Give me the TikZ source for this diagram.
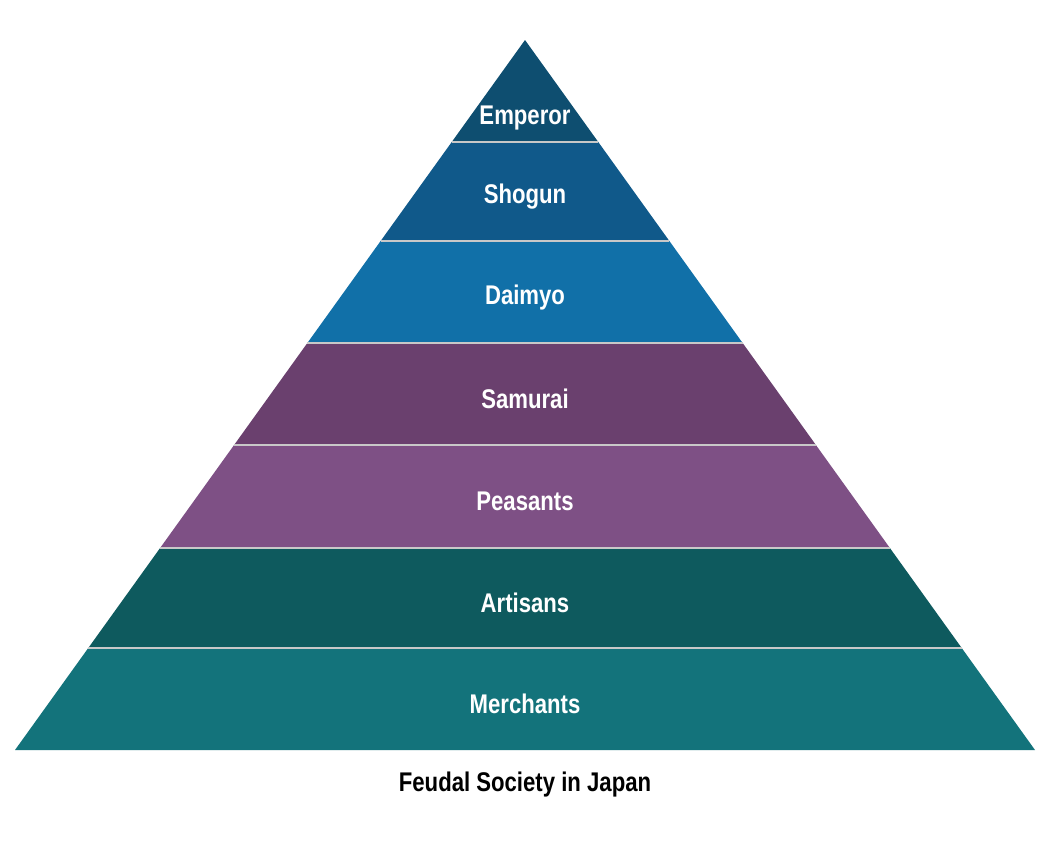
\documentclass[tikz,border=0pt]{standalone}
\usepackage{fontspec}
\setmainfont{Liberation Sans}[FakeStretch=0.82]
\definecolor{cEmp}{HTML}{0E4E70}
\definecolor{cSho}{HTML}{10598A}
\definecolor{cDai}{HTML}{1170A8}
\definecolor{cSam}{HTML}{6A406E}
\definecolor{cPea}{HTML}{7E5085}
\definecolor{cArt}{HTML}{0E5A5E}
\definecolor{cMer}{HTML}{13737B}
\definecolor{sep}{HTML}{C8C8C8}
\begin{document}
\begin{tikzpicture}[x=0.5pt,y=-0.5pt,
  lbl/.style={text=white,font=\fontsize{13.5}{15}\selectfont\bfseries},
  sepline/.style={draw=sep,line width=1.3pt}]
\useasboundingbox (0,0) rectangle (1053,847);
\def\bands{40/142/cEmp/Emperor/emp,142/241/cSho/Shogun/sho,241/343/cDai/Daimyo/dai,343/445/cSam/Samurai/sam,445/548/cPea/Peasants/pea,548/648/cArt/Artisans/art,648/750/cMer/Merchants/mer}
\foreach \ya/\yb/\c/\t/\n in \bands {
  \pgfmathsetmacro{\ha}{(\ya-40)/710*510}
  \pgfmathsetmacro{\hb}{(\yb-40)/710*510}
  \fill[\c] (525-\ha,\ya) -- (525+\ha,\ya) -- (525+\hb,\yb) -- (525-\hb,\yb) -- cycle;
  \node[lbl] (\n) at (525,{\ya+0.55*(\yb-\ya)+(\ya==40?22:0)}) {\t};
}
\foreach \y in {142,241,343,445,548,648} {
  \pgfmathsetmacro{\h}{(\y-40)/710*510}
  \draw[sepline] (525-\h,\y) -- (525+\h,\y);
}
\node[font=\fontsize{13.5}{15}\selectfont\bfseries] (title) at (525,785) {Feudal Society in Japan};
\end{tikzpicture}
\end{document}
